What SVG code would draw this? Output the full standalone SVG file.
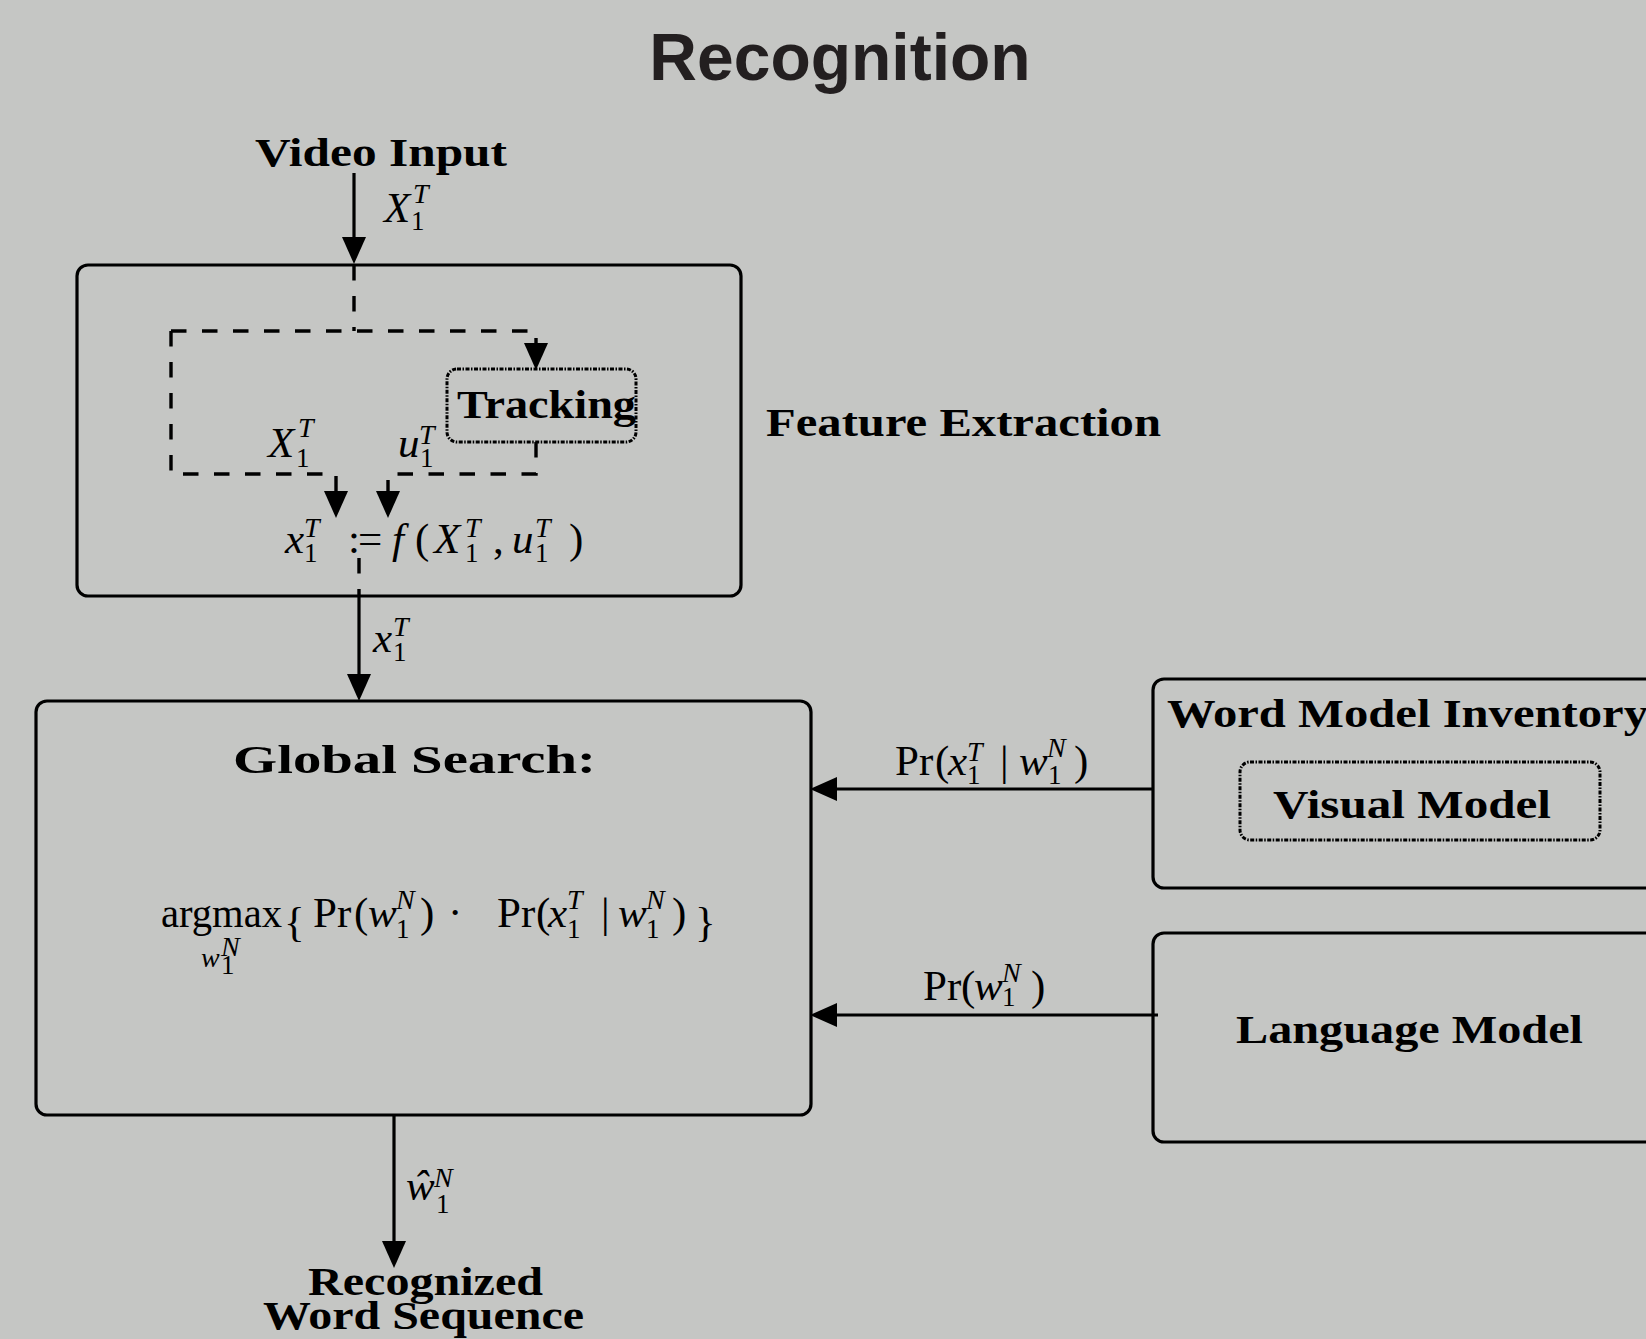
<svg xmlns="http://www.w3.org/2000/svg" width="1646" height="1339" viewBox="0 0 1646 1339">
  <style>
    .box { fill: none; stroke: #000; stroke-width: 3.2; }
    .dotbox { fill: none; stroke: #000; stroke-width: 3; stroke-dasharray: 4 1.5 1.5 1.5; }
    .wire { fill: none; stroke: #000; stroke-width: 3.2; }
    .dash { fill: none; stroke: #000; stroke-width: 3.4; stroke-dasharray: 15.5 15.5; }
    .lbl { font-family: "Liberation Serif", "Times New Roman", serif; font-weight: bold; font-size: 41px; fill: #000; }
    .m { font-family: "Liberation Serif", "Times New Roman", serif; font-size: 43px; fill: #000; }
    .mi { font-family: "Liberation Serif", "Times New Roman", serif; font-style: italic; font-size: 43px; fill: #000; }
    .s { font-family: "Liberation Serif", "Times New Roman", serif; font-size: 27px; fill: #000; }
    .si { font-family: "Liberation Serif", "Times New Roman", serif; font-style: italic; font-size: 28px; fill: #000; }
    .title { font-family: "Liberation Sans", Arial, sans-serif; font-weight: bold; font-size: 66px; fill: #231f20; }
  </style>
  <defs>
    <marker id="arr" markerUnits="userSpaceOnUse" markerWidth="30" markerHeight="26" refX="16" refY="12" orient="auto">
      <path d="M0,0 L27,12 L0,24 Z" fill="#000"/>
    </marker>
  </defs>

  <rect x="0" y="0" width="1646" height="1339" fill="#c5c6c4"/>

  <text class="title" x="840" y="80" text-anchor="middle">Recognition</text>

  <!-- connectors -->
  <g id="connectors">
    <path class="wire" d="M354,173 V253" marker-end="url(#arr)"/>
    <path class="dash" d="M354,265 V331"/>
    <path class="dash" d="M171,331 H536 V359" marker-end="url(#arr)"/>
    <path class="dash" d="M171,331 V474 H336 V507" marker-end="url(#arr)"/>
    <path class="dash" d="M536,442 V474 H388 V507" marker-end="url(#arr)"/>
    <path class="dash" d="M359,558 V597"/>
    <path class="wire" d="M359,597 V690" marker-end="url(#arr)"/>
    <path class="wire" d="M1153,789 H821" marker-end="url(#arr)"/>
    <path class="wire" d="M1158,1015 H821" marker-end="url(#arr)"/>
    <path class="wire" d="M394,1115 V1257" marker-end="url(#arr)"/>

    <!-- X_1^T on the video input -->
    <text class="mi" x="384" y="222">X</text>
    <text class="si" x="413" y="203">T</text>
    <text class="s" x="411" y="230">1</text>

    <!-- x_1^T on the feature output -->
    <text class="mi" x="373" y="652">x</text>
    <text class="si" x="393" y="636">T</text>
    <text class="s" x="393" y="661">1</text>

    <!-- Pr(x_1^T | w_1^N) -->
    <text class="m" x="895" y="775">Pr</text>
    <text class="m" x="935" y="775">(</text>
    <text class="mi" x="948" y="775">x</text>
    <text class="si" x="967" y="761">T</text>
    <text class="s" x="967" y="784">1</text>
    <text class="m" x="1000" y="775">|</text>
    <text class="mi" x="1019" y="775">w</text>
    <text class="si" x="1047" y="757">N</text>
    <text class="s" x="1048" y="784">1</text>
    <text class="m" x="1074" y="775">)</text>

    <!-- Pr(w_1^N) -->
    <text class="m" x="923" y="1000">Pr</text>
    <text class="m" x="961" y="1000">(</text>
    <text class="mi" x="974" y="1000">w</text>
    <text class="si" x="1002" y="982">N</text>
    <text class="s" x="1002" y="1006">1</text>
    <text class="m" x="1031" y="1000">)</text>

    <!-- hat w_1^N on the output -->
    <text class="mi" x="406" y="1200">ŵ</text>
    <text class="si" x="434" y="1187">N</text>
    <text class="s" x="436" y="1213">1</text>
  </g>

  <g id="video-input">
    <text class="lbl" x="255" y="166" textLength="252" lengthAdjust="spacingAndGlyphs">Video Input</text>
  </g>

  <g id="feature-extraction">
    <rect class="box" x="77" y="265" width="664" height="331" rx="11"/>
    <text class="lbl" x="766" y="436" font-size="40" textLength="395" lengthAdjust="spacingAndGlyphs">Feature Extraction</text>
    <!-- inner labels -->
    <text class="mi" x="268" y="457">X</text>
    <text class="si" x="298" y="437">T</text>
    <text class="s" x="296" y="467">1</text>
    <text class="mi" x="398" y="457">u</text>
    <text class="si" x="419" y="444">T</text>
    <text class="s" x="420" y="467">1</text>
    <!-- x_1^T := f(X_1^T, u_1^T) -->
    <text class="mi" x="285" y="553">x</text>
    <text class="si" x="304" y="537">T</text>
    <text class="s" x="304" y="562">1</text>
    <text class="m" x="348" y="553">:</text>
    <text class="m" x="358" y="553">=</text>
    <text class="mi" x="392" y="553">f</text>
    <text class="m" x="415" y="553">(</text>
    <text class="mi" x="434" y="553">X</text>
    <text class="si" x="465" y="537">T</text>
    <text class="s" x="465" y="562">1</text>
    <text class="m" x="493" y="553">,</text>
    <text class="mi" x="512" y="553">u</text>
    <text class="si" x="535" y="537">T</text>
    <text class="s" x="535" y="562">1</text>
    <text class="m" x="569" y="553">)</text>
  </g>

  <g id="tracking">
    <rect class="dotbox" x="447" y="369" width="189" height="73" rx="10"/>
    <text class="lbl" x="457" y="418" font-size="39" textLength="179" lengthAdjust="spacingAndGlyphs">Tracking</text>
  </g>

  <g id="global-search">
    <rect class="box" x="36" y="701" width="775" height="414" rx="11"/>
    <text class="lbl" x="233" y="773" font-size="45" textLength="363" lengthAdjust="spacingAndGlyphs">Global Search:</text>
    <!-- argmax { Pr(w_1^N) . Pr(x_1^T | w_1^N) } -->
    <text class="m" x="161" y="927" textLength="121" lengthAdjust="spacingAndGlyphs">argmax</text>
    <text class="si" x="201" y="967" font-size="28">w</text>
    <text class="si" x="221" y="956" font-size="19">N</text>
    <text class="s" x="221" y="974" font-size="19">1</text>
    <text class="m" x="284" y="936" font-size="58">{</text>
    <text class="m" x="313" y="927">Pr</text>
    <text class="m" x="354" y="927">(</text>
    <text class="mi" x="368" y="927">w</text>
    <text class="si" x="396" y="909">N</text>
    <text class="s" x="396" y="938">1</text>
    <text class="m" x="420" y="927">)</text>
    <text class="m" x="448" y="927">·</text>
    <text class="m" x="497" y="927">Pr</text>
    <text class="m" x="536" y="927">(</text>
    <text class="mi" x="548" y="927">x</text>
    <text class="si" x="567" y="909">T</text>
    <text class="s" x="567" y="938">1</text>
    <text class="m" x="601" y="927">|</text>
    <text class="mi" x="618" y="927">w</text>
    <text class="si" x="646" y="909">N</text>
    <text class="s" x="646" y="938">1</text>
    <text class="m" x="672" y="927">)</text>
    <text class="m" x="695" y="936" font-size="58">}</text>
  </g>

  <g id="word-model-inventory">
    <rect class="box" x="1153" y="679" width="520" height="209" rx="11"/>
    <text class="lbl" x="1167" y="727" textLength="481" lengthAdjust="spacingAndGlyphs">Word Model Inventory</text>
  </g>

  <g id="visual-model">
    <rect class="dotbox" x="1240" y="762" width="360" height="78" rx="10"/>
    <text class="lbl" x="1273" y="818" textLength="278" lengthAdjust="spacingAndGlyphs">Visual Model</text>
  </g>

  <g id="language-model">
    <rect class="box" x="1153" y="933" width="520" height="209" rx="11"/>
    <text class="lbl" x="1236" y="1043" textLength="347" lengthAdjust="spacingAndGlyphs">Language Model</text>
  </g>

  <g id="recognized-word-sequence">
    <text class="lbl" x="308" y="1295" font-size="40" textLength="235" lengthAdjust="spacingAndGlyphs">Recognized</text>
    <text class="lbl" x="263" y="1329" font-size="40" textLength="321" lengthAdjust="spacingAndGlyphs">Word Sequence</text>
  </g>
</svg>
